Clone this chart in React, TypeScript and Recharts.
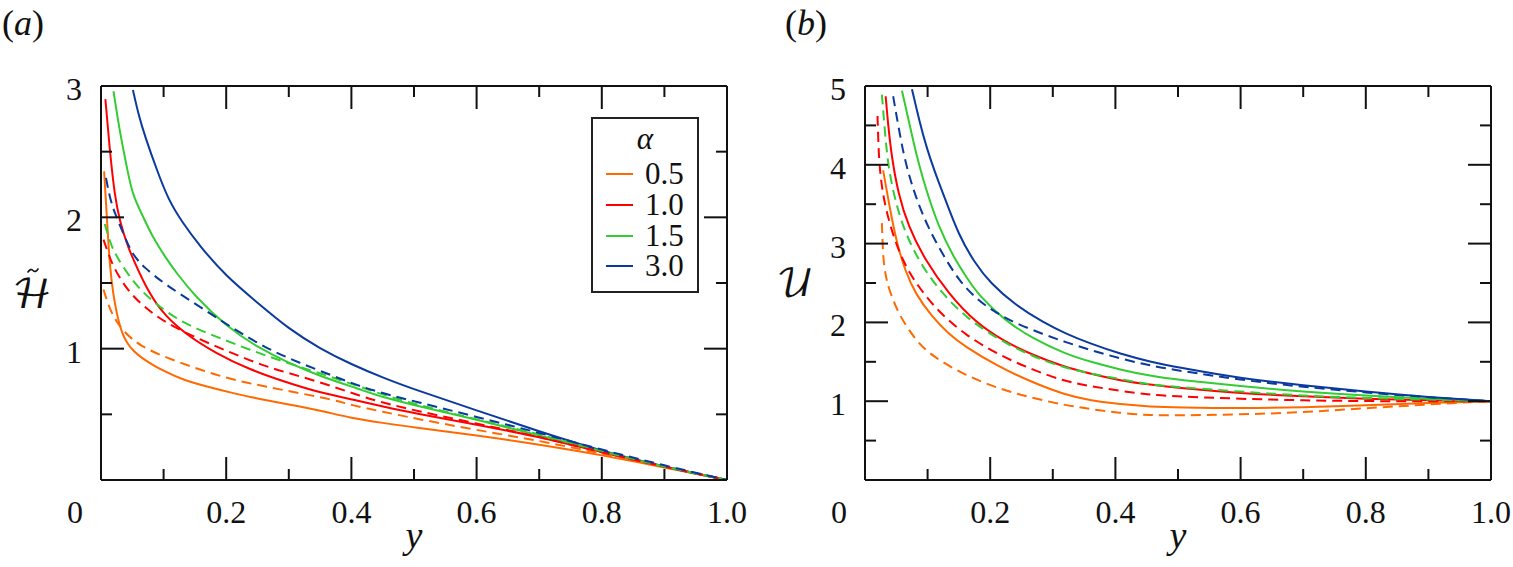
import React from 'react';
import { LineChart, Line, XAxis, YAxis, Legend } from 'recharts';

const FONT = 'Liberation Serif, DejaVu Serif, serif';
const MATH = 'DejaVu Math TeX Gyre, DejaVu Serif, serif';

// shared axis ticks
const yTicks = [0, 0.1, 0.2, 0.3, 0.4, 0.5, 0.6, 0.7, 0.8, 0.9, 1];
const yMajor = [0.2, 0.4, 0.6, 0.8];
const yLabels = [0, 0.2, 0.4, 0.6, 0.8, 1];
const hTicks = [0, 0.5, 1, 1.5, 2, 2.5, 3];
const hMajor = [1, 2];
const hLabels = [1, 2, 3];
const uTicks = [0, 0.5, 1, 1.5, 2, 2.5, 3, 3.5, 4, 4.5, 5];
const uMajor = [1, 2, 3, 4];
const uLabels = [1, 2, 3, 4, 5];

const alphas = ['0.5', '1.0', '1.5', '3.0'];
const colors = ['#ff6a00', '#ff0000', '#33cc33', '#0a3a9e'];

// panel (a): H~ against y, [y, value]
const hSolid05 = [[0.005, 2.35], [0.009, 2.03], [0.014, 1.62], [0.02, 1.4], [0.025, 1.27], [0.033, 1.12], [0.042, 1.04], [0.052, 0.98], [0.065, 0.93], [0.078, 0.89], [0.1, 0.83], [0.132, 0.76], [0.17, 0.71], [0.212, 0.66], [0.25, 0.62], [0.3, 0.575], [0.35, 0.53], [0.4, 0.47], [0.45, 0.435], [0.5, 0.4], [0.6, 0.34], [0.7, 0.27], [0.8, 0.19], [0.9, 0.095], [1, 0]];
const hDash05 = [[0.004, 1.45], [0.012, 1.33], [0.02, 1.24], [0.036, 1.13], [0.062, 1.02], [0.105, 0.93], [0.158, 0.84], [0.212, 0.76], [0.265, 0.71], [0.318, 0.66], [0.372, 0.61], [0.4, 0.57], [0.45, 0.52], [0.5, 0.47], [0.6, 0.38], [0.7, 0.3], [0.8, 0.2], [0.9, 0.1], [1, 0]];
const hSolid10 = [[0.007, 2.9], [0.014, 2.51], [0.022, 2.16], [0.03, 1.97], [0.043, 1.77], [0.062, 1.57], [0.07, 1.49], [0.094, 1.29], [0.132, 1.12], [0.185, 0.96], [0.238, 0.84], [0.292, 0.75], [0.345, 0.67], [0.414, 0.6], [0.45, 0.56], [0.5, 0.51], [0.6, 0.42], [0.7, 0.33], [0.8, 0.21], [0.9, 0.1], [1, 0]];
const hDash10 = [[0.004, 1.83], [0.012, 1.72], [0.02, 1.62], [0.041, 1.45], [0.068, 1.32], [0.105, 1.19], [0.158, 1.07], [0.212, 0.96], [0.265, 0.86], [0.318, 0.79], [0.372, 0.71], [0.414, 0.64], [0.45, 0.59], [0.5, 0.53], [0.6, 0.43], [0.7, 0.33], [0.8, 0.21], [0.9, 0.1], [1, 0]];
const hSolid15 = [[0.02, 2.96], [0.03, 2.65], [0.041, 2.39], [0.05, 2.17], [0.068, 2.0], [0.08, 1.87], [0.105, 1.68], [0.12, 1.58], [0.15, 1.4], [0.2, 1.17], [0.25, 1.01], [0.3, 0.89], [0.35, 0.79], [0.414, 0.69], [0.45, 0.63], [0.5, 0.57], [0.6, 0.46], [0.7, 0.34], [0.8, 0.22], [0.9, 0.1], [1, 0]];
const hDash15 = [[0.006, 1.95], [0.015, 1.8], [0.025, 1.7], [0.052, 1.5], [0.084, 1.35], [0.132, 1.19], [0.185, 1.09], [0.238, 0.99], [0.292, 0.9], [0.345, 0.82], [0.414, 0.71], [0.45, 0.65], [0.5, 0.58], [0.6, 0.46], [0.7, 0.35], [0.8, 0.22], [0.9, 0.1], [1, 0]];
const hSolid30 = [[0.051, 2.97], [0.06, 2.78], [0.07, 2.62], [0.09, 2.35], [0.108, 2.13], [0.13, 1.96], [0.158, 1.78], [0.2, 1.55], [0.25, 1.35], [0.3, 1.15], [0.35, 1.0], [0.4, 0.88], [0.45, 0.78], [0.5, 0.69], [0.6, 0.53], [0.7, 0.37], [0.8, 0.22], [0.9, 0.1], [1, 0]];
const hDash30 = [[0.008, 2.3], [0.014, 2.15], [0.022, 2.03], [0.038, 1.85], [0.05, 1.72], [0.068, 1.62], [0.105, 1.48], [0.158, 1.32], [0.212, 1.15], [0.265, 1.0], [0.318, 0.89], [0.372, 0.79], [0.41, 0.72], [0.45, 0.66], [0.5, 0.6], [0.6, 0.48], [0.7, 0.36], [0.8, 0.23], [0.9, 0.11], [1, 0]];

// panel (b): U against y
const uSolid05 = [[0.029, 3.93], [0.04, 3.43], [0.051, 3.0], [0.064, 2.66], [0.08, 2.37], [0.107, 2.07], [0.133, 1.86], [0.16, 1.69], [0.213, 1.44], [0.267, 1.24], [0.32, 1.08], [0.36, 1.01], [0.408, 0.96], [0.456, 0.93], [0.5, 0.92], [0.6, 0.91], [0.7, 0.92], [0.8, 0.95], [0.9, 0.98], [1, 1]];
const uDash05 = [[0.027, 3.26], [0.029, 2.79], [0.033, 2.6], [0.037, 2.45], [0.053, 2.11], [0.08, 1.78], [0.107, 1.57], [0.16, 1.33], [0.213, 1.16], [0.267, 1.04], [0.32, 0.95], [0.36, 0.9], [0.408, 0.85], [0.456, 0.82], [0.5, 0.82], [0.6, 0.83], [0.7, 0.86], [0.8, 0.91], [0.9, 0.96], [1, 1]];
const uSolid10 = [[0.033, 4.87], [0.037, 4.5], [0.043, 4.08], [0.053, 3.64], [0.069, 3.22], [0.096, 2.79], [0.133, 2.37], [0.176, 2.0], [0.224, 1.75], [0.267, 1.59], [0.32, 1.43], [0.36, 1.35], [0.408, 1.26], [0.456, 1.21], [0.5, 1.17], [0.6, 1.1], [0.7, 1.06], [0.8, 1.03], [0.9, 1.01], [1, 1]];
const uDash10 = [[0.02, 4.62], [0.022, 4.1], [0.025, 3.85], [0.029, 3.6], [0.04, 3.22], [0.059, 2.79], [0.085, 2.45], [0.117, 2.14], [0.16, 1.84], [0.213, 1.59], [0.267, 1.4], [0.32, 1.25], [0.36, 1.19], [0.408, 1.13], [0.456, 1.08], [0.5, 1.06], [0.6, 1.03], [0.7, 1.01], [0.8, 1.0], [0.9, 1.0], [1, 1]];
const uSolid15 = [[0.059, 4.94], [0.068, 4.63], [0.077, 4.3], [0.087, 3.98], [0.097, 3.7], [0.117, 3.22], [0.144, 2.79], [0.165, 2.54], [0.181, 2.35], [0.224, 2.02], [0.267, 1.8], [0.32, 1.6], [0.36, 1.5], [0.408, 1.4], [0.456, 1.32], [0.5, 1.27], [0.6, 1.19], [0.7, 1.12], [0.8, 1.07], [0.9, 1.03], [1, 1]];
const uDash15 = [[0.027, 4.89], [0.032, 4.4], [0.037, 3.98], [0.048, 3.55], [0.064, 3.13], [0.091, 2.71], [0.123, 2.37], [0.16, 2.07], [0.213, 1.78], [0.267, 1.57], [0.32, 1.42], [0.36, 1.35], [0.408, 1.28], [0.456, 1.21], [0.5, 1.18], [0.6, 1.12], [0.7, 1.07], [0.8, 1.04], [0.9, 1.02], [1, 1]];
const uSolid30 = [[0.075, 4.96], [0.087, 4.55], [0.099, 4.2], [0.112, 3.9], [0.125, 3.63], [0.15, 3.1], [0.175, 2.76], [0.2, 2.5], [0.24, 2.22], [0.285, 2.0], [0.32, 1.86], [0.36, 1.73], [0.408, 1.6], [0.456, 1.5], [0.5, 1.43], [0.6, 1.29], [0.7, 1.2], [0.8, 1.12], [0.9, 1.05], [1, 1]];
const uDash30 = [[0.045, 4.87], [0.053, 4.5], [0.062, 4.12], [0.072, 3.82], [0.083, 3.55], [0.101, 3.2], [0.123, 2.88], [0.149, 2.54], [0.18, 2.28], [0.21, 2.12], [0.24, 1.99], [0.285, 1.85], [0.32, 1.75], [0.36, 1.65], [0.408, 1.54], [0.456, 1.45], [0.5, 1.39], [0.6, 1.27], [0.7, 1.18], [0.8, 1.11], [0.9, 1.05], [1, 1]];

const hSolid = [hSolid05, hSolid10, hSolid15, hSolid30];
const hDash = [hDash05, hDash10, hDash15, hDash30];
const uSolid = [uSolid05, uSolid10, uSolid15, uSolid30];
const uDash = [uDash05, uDash10, uDash15, uDash30];

const pts = (arr: number[][]) => arr.map(([y, v]) => ({ y, v }));
const has = (list: number[], v: number) => list.some((m) => Math.abs(m - v) < 1e-9);

type Side = 'bottom' | 'top' | 'left' | 'right';

// inward ticks: long at majors, short at minors, nothing on the corners
function makeTick(side: Side, ticks: number[], majors: number[], labels: number[] | null) {
  const lo = ticks[0];
  const hi = ticks[ticks.length - 1];
  return (props: any) => {
    const { x, y, payload } = props;
    const v = payload.value;
    const corner = Math.abs(v - lo) < 1e-9 || Math.abs(v - hi) < 1e-9;
    const len = corner ? 0 : has(majors, v) ? 23 : 11;
    let x2 = x;
    let y2 = y;
    if (side === 'bottom') y2 = y - len;
    if (side === 'top') y2 = y + len;
    if (side === 'left') x2 = x + len;
    if (side === 'right') x2 = x - len;
    let label = null;
    if (labels && has(labels, v)) {
      if (side === 'bottom') {
        label = (
          <text x={v === 0 ? x - 26 : x} y={y + 43} textAnchor="middle" fontSize={32} fontFamily={FONT} fill="#111">
            {v === 0 ? '0' : v.toFixed(1)}
          </text>
        );
      } else {
        label = (
          <text x={x - 19} y={y + 14} textAnchor="end" fontSize={32} fontFamily={FONT} fill="#111">
            {v}
          </text>
        );
      }
    }
    return (
      <g>
        {len > 0 && <line x1={x} y1={y} x2={x2} y2={y2} stroke="#111" strokeWidth={2} />}
        {label}
      </g>
    );
  };
}

const ROW = 30.8;

function AlphaLegend(props: any) {
  const items = (props.payload || []).filter((p: any) => p.type !== 'none');
  return (
    <div style={{ position: 'relative', width: 108, height: 176, border: '2px solid #222', boxSizing: 'border-box', background: '#fff', fontFamily: FONT, color: '#111' }}>
      <div style={{ position: 'absolute', left: 0, right: 0, top: 6, textAlign: 'center', fontStyle: 'italic', fontSize: 31, lineHeight: '28px' }}>α</div>
      {items.map((it: any, i: number) => (
        <span
          key={it.value}
          style={{ position: 'absolute', left: 13, top: 54 + i * ROW, width: 27, height: 0, borderTop: `2px solid ${it.color}` }}
        />
      ))}
      <div style={{ position: 'absolute', left: 52, top: 40, fontSize: 31, lineHeight: `${ROW}px`, whiteSpace: 'pre-line' }}>
        {items.map((it: any) => it.value).join('\n')}
      </div>
    </div>
  );
}

const frame = { stroke: '#111', strokeWidth: 2 };

function Panel({ width, margin, yTickVals, yMajors, yLabelVals, solid, dash, title, withLegend }: any) {
  const yMax = yTickVals[yTickVals.length - 1];
  return (
    <LineChart width={width} height={567} margin={margin}>
      <XAxis
        xAxisId="b" dataKey="y" type="number" domain={[0, 1]} ticks={yTicks} interval={0}
        allowDataOverflow height={1} tickSize={0} tickMargin={0} tickLine={false} axisLine={frame}
        tick={makeTick('bottom', yTicks, yMajor, yLabels)}
        label={(p: any) => (
          <text x={p.viewBox.x + p.viewBox.width / 2} y={p.viewBox.y + 68} textAnchor="middle" fontSize={38} fontStyle="italic" fontFamily={FONT} fill="#111">y</text>
        )}
      />
      <XAxis
        xAxisId="t" orientation="top" dataKey="y" type="number" domain={[0, 1]} ticks={yTicks} interval={0}
        allowDataOverflow height={1} tickSize={0} tickMargin={0} tickLine={false} axisLine={frame}
        tick={makeTick('top', yTicks, yMajor, null)}
      />
      <YAxis
        yAxisId="l" type="number" domain={[0, yMax]} ticks={yTickVals} interval={0}
        allowDataOverflow width={1} tickSize={0} tickMargin={0} tickLine={false} axisLine={frame}
        tick={makeTick('left', yTickVals, yMajors, yLabelVals)}
        label={title}
      />
      <YAxis
        yAxisId="r" orientation="right" type="number" domain={[0, yMax]} ticks={yTickVals} interval={0}
        allowDataOverflow width={1} tickSize={0} tickMargin={0} tickLine={false} axisLine={frame}
        tick={makeTick('right', yTickVals, yMajors, null)}
      />
      {solid.map((s: number[][], i: number) => (
        <Line
          key={'s' + i} xAxisId="b" yAxisId="l" data={pts(s)} dataKey="v" name={alphas[i]}
          type="basis" stroke={colors[i]} strokeWidth={2} dot={false} activeDot={false}
          legendType={withLegend ? 'line' : 'none'} isAnimationActive={false}
        />
      ))}
      {dash.map((s: number[][], i: number) => (
        <Line
          key={'d' + i} xAxisId="b" yAxisId="l" data={pts(s)} dataKey="v" name={alphas[i] + ' dashed'}
          type="basis" stroke={colors[i]} strokeWidth={2} strokeDasharray="10 6" dot={false} activeDot={false}
          legendType="none" isAnimationActive={false}
        />
      ))}
      {withLegend && (
        <Legend
          layout="vertical" align="center" verticalAlign="middle" content={<AlphaLegend />}
          wrapperStyle={{ left: 591, top: 117, width: 108, height: 176 }}
        />
      )}
    </LineChart>
  );
}

// script H with a tilde accent drawn above it
const hTitle = (p: any) => {
  const cx = p.viewBox.x - 68;
  const by = p.viewBox.y + 222;
  return (
    <g>
      <text x={cx} y={by} textAnchor="middle" fontSize={40} fontFamily={MATH} fill="#111">ℋ</text>
      <path
        d={`M${cx - 4},${by - 36} q2.5,-4 5,-1.5 t5,-1.5`}
        fill="none" stroke="#111" strokeWidth={1.6} strokeLinecap="round"
      />
    </g>
  );
};

const uTitle = (p: any) => (
  <text x={p.viewBox.x - 69} y={p.viewBox.y + 210} textAnchor="middle" fontSize={38} fontFamily={MATH} fill="#111">𝒰</text>
);

export default function App() {
  return (
    <div style={{ position: 'absolute', left: 0, top: 0, width: 1513, height: 567, background: '#fff', fontFamily: FONT }}>
      <div style={{ position: 'absolute', left: 2, top: 2, fontSize: 36, color: '#111' }}>(<i>a</i>)</div>
      <div style={{ position: 'absolute', left: 785, top: 2, fontSize: 36, color: '#111' }}>(<i>b</i>)</div>
      <div style={{ position: 'absolute', left: 0, top: 0 }}>
        <Panel
          width={760} margin={{ top: 85, right: 32, bottom: 86, left: 100 }}
          yTickVals={hTicks} yMajors={hMajor} yLabelVals={hLabels}
          solid={hSolid} dash={hDash} title={hTitle} withLegend
        />
      </div>
      <div style={{ position: 'absolute', left: 765, top: 0 }}>
        <Panel
          width={748} margin={{ top: 85, right: 21, bottom: 86, left: 99 }}
          yTickVals={uTicks} yMajors={uMajor} yLabelVals={uLabels}
          solid={uSolid} dash={uDash} title={uTitle} withLegend={false}
        />
      </div>
    </div>
  );
}
